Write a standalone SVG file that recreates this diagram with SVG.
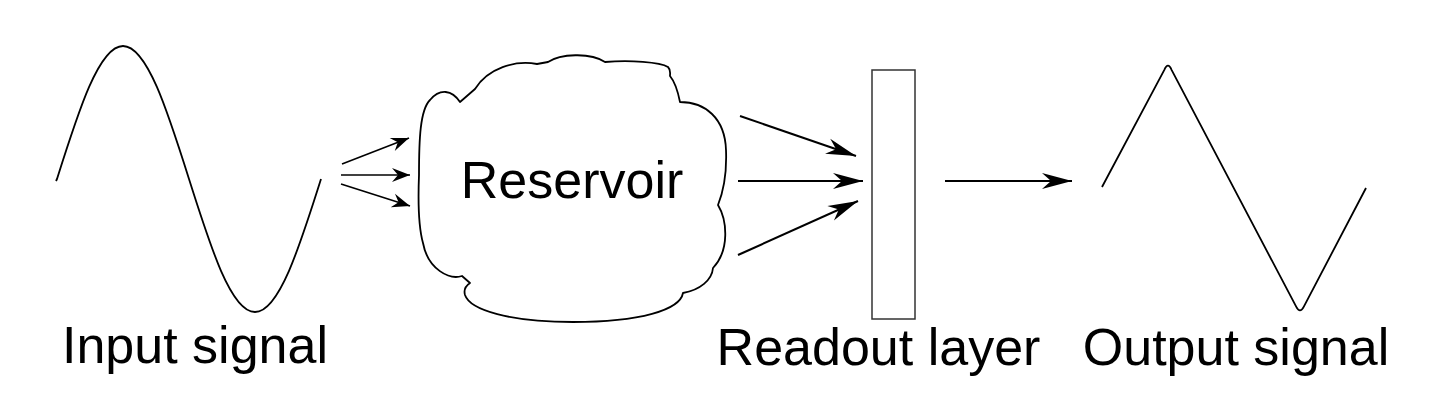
<svg xmlns="http://www.w3.org/2000/svg" width="1435" height="402" viewBox="0 0 1435 402">
<style>
.ln{fill:none;stroke:#000;stroke-width:1.8;stroke-linejoin:round}
.ar{fill:none;stroke:#000;stroke-width:2}
.ars{fill:none;stroke:#000;stroke-width:1.6}
.t{font-family:"Liberation Sans",Arial,sans-serif;fill:#000}
</style>
<defs>
<marker id="big" markerUnits="userSpaceOnUse" markerWidth="32" markerHeight="18" viewBox="-31 -9 32 18" refX="0" refY="0" orient="auto">
<path d="M0,0 L-30,-8 L-21,0 L-30,8 Z" fill="#000"/>
</marker>
<marker id="small" markerUnits="userSpaceOnUse" markerWidth="20" markerHeight="16" viewBox="-19 -8 20 16" refX="0" refY="0" orient="auto">
<path d="M0,0 L-18,-7 L-12,0 L-18,7 Z" fill="#000"/>
</marker>
</defs>
<rect width="1435" height="402" fill="#fff"/>
<g id="input-signal">
<path class="ln" d="M56,181 L57,179 C78.5,110.9 99.1,46 123,46 C146.9,46 167.5,110.9 189,179 C210.5,247.1 231.1,312 255,312 C278.9,312 299.5,247.1 321,179"/>
<text class="t" x="62" y="363" font-size="52">Input signal</text>
</g>
<g id="reservoir">
<path class="ln" d="M460,102 L475,89 C488,68 515,60 537,64 L548,62 C560,54 590,52 605,62 C630,60 660,62 668,67 C671,70 670,73 670,76 C675,82 678,92 680,102 C705,102 725,118 726,150 C727,175 722,195 718,205 C727,220 730,250 713,268 C712,280 700,290 683,293 C680,310 640,322 573,322 C510,322 470,310 465,295 C463,288 467,285 470,283 L462,276 C450,280 428,270 423,243 C418,225 418,200 419,175 C419,140 420,110 430,100 C440,88 452,90 460,102 Z"/>
<text class="t" x="572" y="198" font-size="52" text-anchor="middle">Reservoir</text>
</g>
<g id="readout-layer">
<rect x="872" y="70" width="43" height="249" fill="#fff" stroke="#333" stroke-width="1.5"/>
<text class="t" x="878.5" y="365" font-size="52" text-anchor="middle">Readout layer</text>
</g>
<g id="output-signal">
<path class="ln" d="M1102,187 L1164.2,70.1 Q1168,61 1171.7,70.1 L1296.3,306.9 Q1300,314 1303.7,306.9 L1366,188"/>
<text class="t" x="1236" y="365" font-size="52" text-anchor="middle">Output signal</text>
</g>
<g id="connectors">
<line class="ars" x1="342" y1="164" x2="409" y2="138" marker-end="url(#small)"/>
<line class="ars" x1="341" y1="175" x2="410" y2="175" marker-end="url(#small)"/>
<line class="ars" x1="341" y1="184" x2="410" y2="206" marker-end="url(#small)"/>
<line class="ar" x1="740" y1="116" x2="856" y2="156" marker-end="url(#big)"/>
<line class="ar" x1="738" y1="181" x2="863" y2="181" marker-end="url(#big)"/>
<line class="ar" x1="738" y1="255" x2="858" y2="201" marker-end="url(#big)"/>
<line class="ar" x1="945" y1="181" x2="1072" y2="181" marker-end="url(#big)"/>
</g>
</svg>
